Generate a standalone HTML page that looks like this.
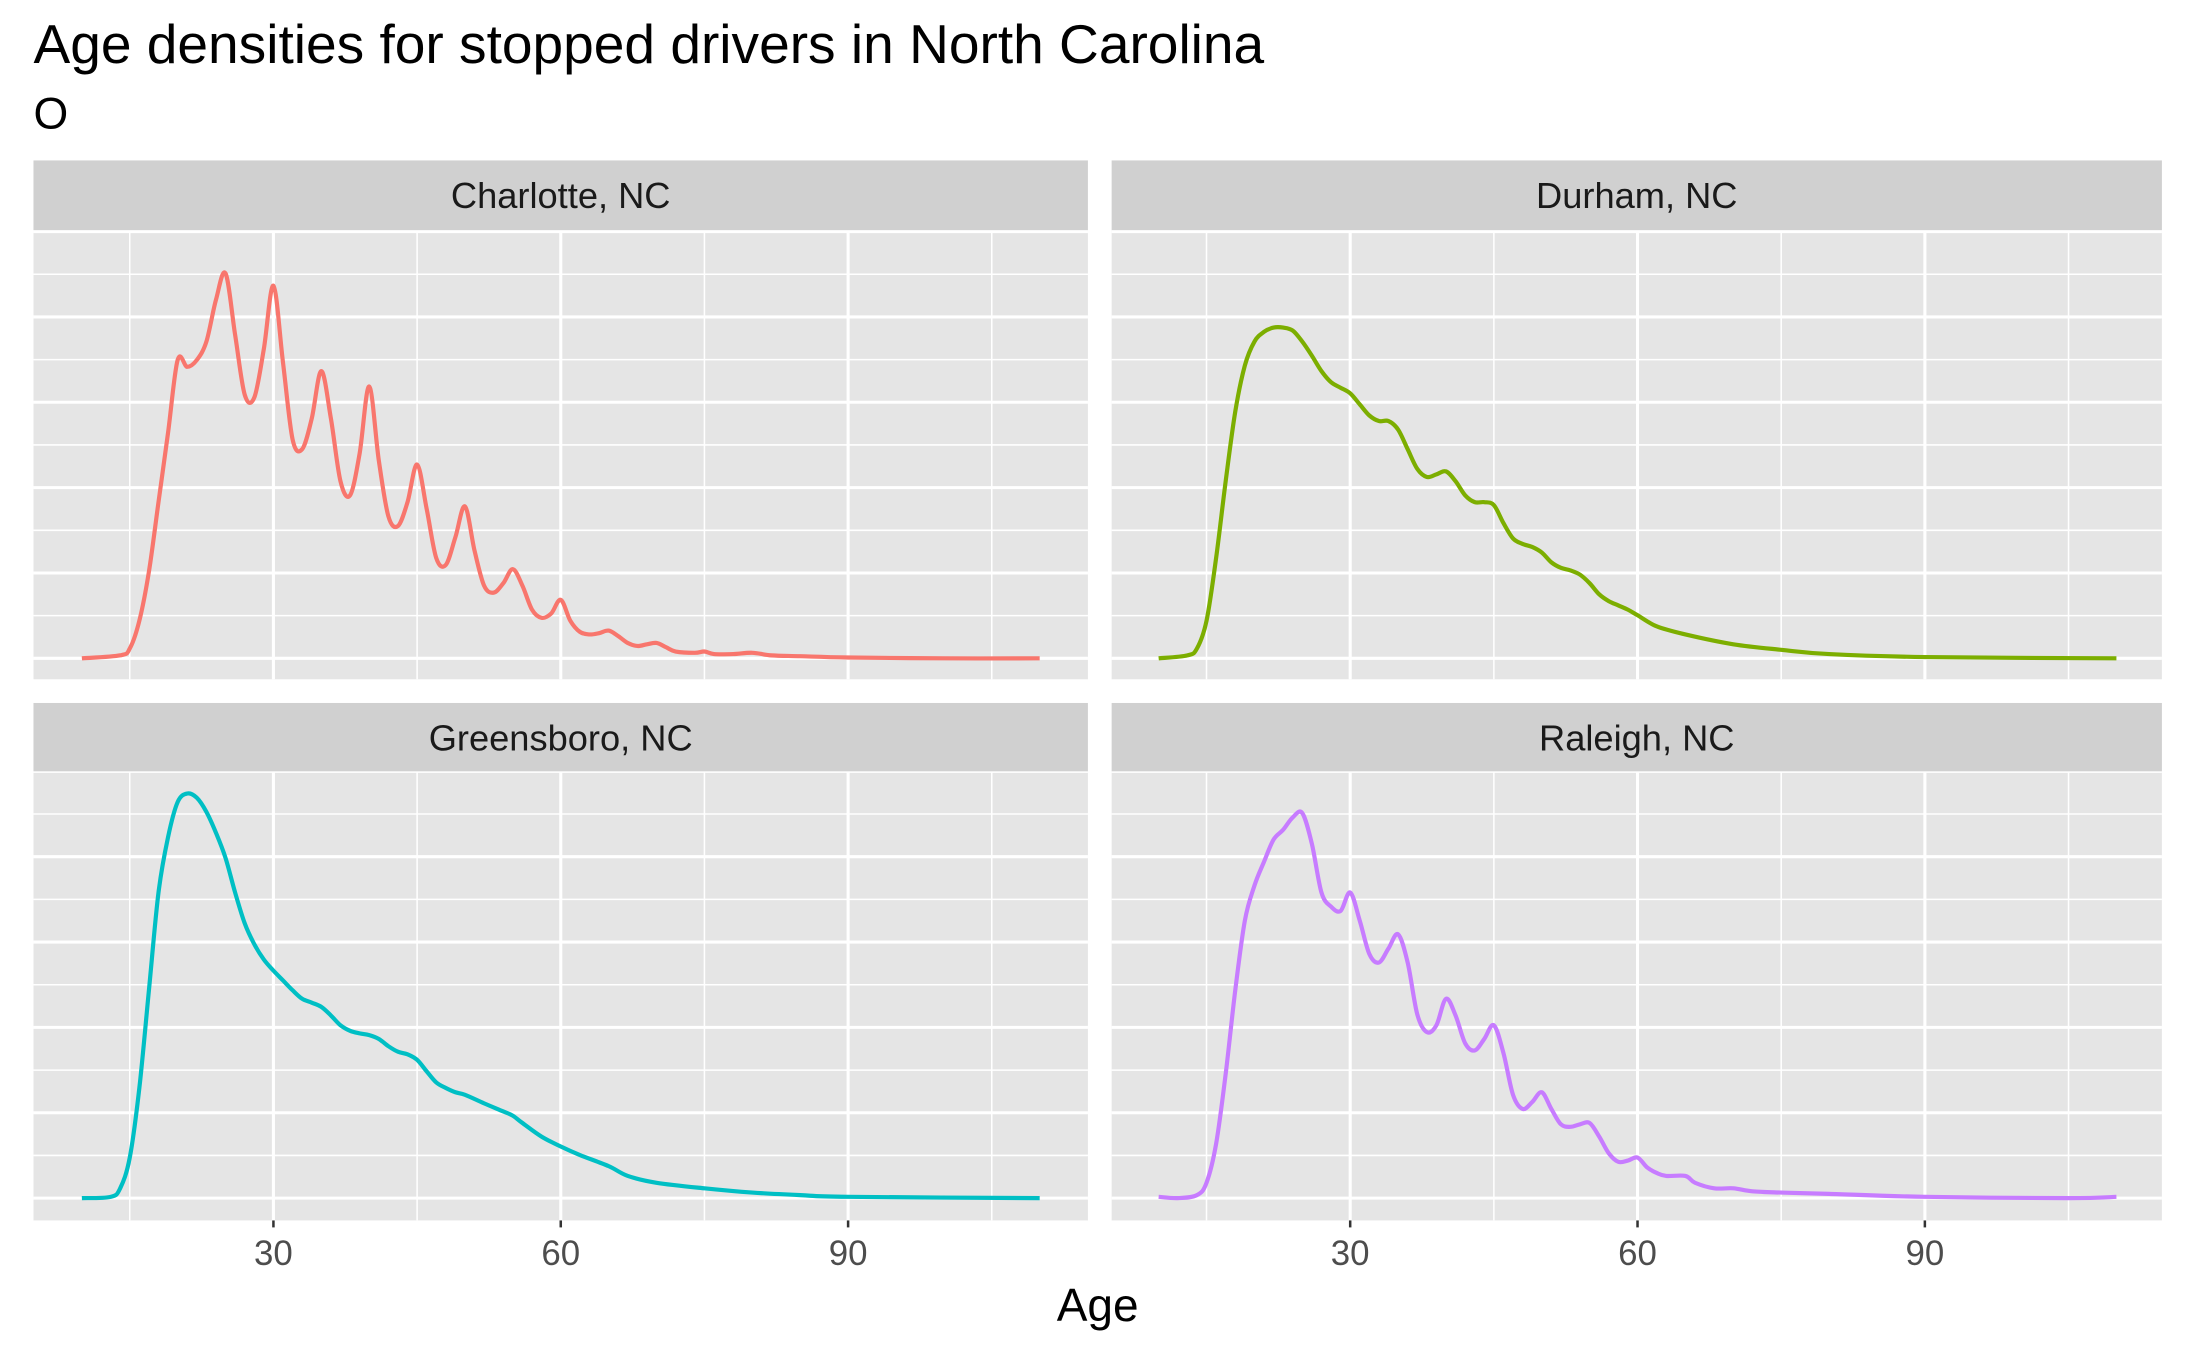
<!DOCTYPE html>
<html><head><meta charset="utf-8"><style>html,body{margin:0;padding:0;background:#fff}svg{display:block}</style></head>
<body>
<svg id="chart" width="2187" height="1351" viewBox="0 0 1568 968.6" xmlns="http://www.w3.org/2000/svg" font-family="Liberation Sans, sans-serif">
<text x="24" y="45" font-size="39.5" fill="#000">Age densities for stopped drivers in North Carolina</text>
<text x="24" y="92" font-size="32" fill="#000">O</text>
<text x="787" y="947" font-size="33" text-anchor="middle" fill="#000">Age</text>
<g id="panels"></g>
</svg>
<script>
const cities = ["Charlotte, NC","Durham, NC","Greensboro, NC","Raleigh, NC"];
const colors = ["#F8766D","#7CAE00","#00BFC4","#C77CFF"];
const xTicks = [30,60,90];
const charlotteAges = [10,14,15,16,17,18,19,20,21,22,23,24,25,26,27,28,29,30,31,32,33,34,35,36,37,38,39,40,41,42,43,44,45,46,47,48,49,50,51,52,53,54,55,56,57,58,59,60,61,62,63,64,65,66,67,68,69,70,71,72,74,75,76,78,80,82,85,90,100,110];
const charlotteVals = [0,0.07,0.23,0.88,2.03,3.66,5.29,6.99,6.83,6.99,7.42,8.4,9.02,7.58,6.18,6.11,7.25,8.73,6.93,5.13,4.9,5.62,6.73,5.62,4.15,3.82,4.8,6.37,4.64,3.33,3.1,3.66,4.54,3.5,2.35,2.19,2.84,3.56,2.52,1.7,1.54,1.76,2.09,1.7,1.14,0.95,1.05,1.37,0.88,0.62,0.56,0.59,0.65,0.52,0.36,0.29,0.33,0.36,0.26,0.16,0.13,0.16,0.1,0.1,0.13,0.07,0.05,0.02,0,0];
const durhamAges = [10,13,14,15,16,17,18,19,20,21,22,23,24,25,26,27,28,29,30,31,32,33,34,35,36,37,38,39,40,41,42,43,44,45,46,47,48,49,50,51,52,53,54,55,56,57,58,59,60,62,65,70,75,80,90,110];
const durhamVals = [0,0.07,0.23,0.88,2.35,4.15,5.78,6.86,7.42,7.65,7.75,7.75,7.68,7.42,7.09,6.73,6.47,6.34,6.21,5.95,5.69,5.56,5.56,5.36,4.9,4.44,4.25,4.31,4.38,4.15,3.82,3.66,3.66,3.59,3.17,2.81,2.68,2.61,2.48,2.25,2.12,2.06,1.96,1.76,1.5,1.34,1.24,1.14,1.01,0.75,0.56,0.33,0.2,0.1,0.03,0];
const greensboroAges = [10,13,14,15,16,17,18,19,20,21,22,23,24,25,26,27,28,29,30,31,32,33,34,35,36,37,38,39,40,41,42,43,44,45,46,47,48,49,50,52,54,55,56,58,60,62,65,67,70,75,80,85,90,110];
const greensboroVals = [0,0.03,0.23,0.95,2.58,4.87,7.16,8.46,9.28,9.48,9.38,9.05,8.56,7.97,7.16,6.44,5.95,5.59,5.33,5.1,4.87,4.67,4.58,4.48,4.28,4.05,3.92,3.86,3.82,3.73,3.56,3.43,3.37,3.24,2.97,2.71,2.58,2.48,2.42,2.22,2.03,1.93,1.76,1.44,1.21,1.01,0.75,0.52,0.36,0.23,0.13,0.07,0.03,0];
const raleighAges = [10,12,14,15,16,17,18,19,20,21,22,23,24,25,26,27,28,29,30,31,32,33,34,35,36,37,38,39,40,41,42,43,44,45,46,47,48,49,50,51,52,53,54,55,56,57,58,59,60,61,62,63,65,66,68,70,72,75,80,90,105,110];
const raleighVals = [0.03,0,0.07,0.36,1.27,2.91,4.87,6.5,7.32,7.88,8.4,8.63,8.92,9.02,8.3,7.16,6.83,6.73,7.16,6.5,5.72,5.52,5.85,6.18,5.52,4.31,3.89,4.05,4.67,4.28,3.63,3.46,3.73,4.05,3.4,2.42,2.09,2.25,2.48,2.09,1.73,1.67,1.73,1.76,1.44,1.05,0.85,0.88,0.95,0.72,0.59,0.52,0.52,0.36,0.23,0.23,0.16,0.13,0.1,0.03,0,0.03];

const series = [[charlotteAges,charlotteVals],[durhamAges,durhamVals],[greensboroAges,greensboroVals],[raleighAges,raleighVals]];
const NS="http://www.w3.org/2000/svg";
const g=document.getElementById('panels');
function mk(t,a,p){const e=document.createElementNS(NS,t);for(const k in a)e.setAttribute(k,a[k]);(p||g).appendChild(e);return e;}
const panelX=[24,797], panelW=[756,753];
const stripTop=[115,504], plotTop=[165,553], plotBot=[487,875], base=[472,859];
const step=30.6;
cities.forEach((c,i)=>{
  const col=i%2,row=Math.floor(i/2);
  const x0=panelX[col], w=panelW[col];
  const off=col===0?0:772;
  const xs=v=>58.7+(v-10)*6.867+off;
  const ys=v=>base[row]-v*step;
  const pg=mk('g',{});
  
  
  const bg=mk('rect',{x:x0,y:plotTop[row],width:w,height:plotBot[row]-plotTop[row],fill:'#E5E5E5'},pg);
  
  
  for(let k=0;k<=10;k++){
    const y=ys(k);
    if(y<plotTop[row])break;
    const l=mk('line',{x1:x0,x2:x0+w,y1:y,y2:y,stroke:'#fff','stroke-width':k%2===0?2.2:1.1},pg);
    
    
  }
  [15,45,75,105].forEach(v=>{
    const l=mk('line',{x1:xs(v),x2:xs(v),y1:plotTop[row],y2:plotBot[row],stroke:'#fff','stroke-width':1.1},pg);
    
    
  });
  xTicks.forEach(v=>{
    const l=mk('line',{x1:xs(v),x2:xs(v),y1:plotTop[row],y2:plotBot[row],stroke:'#fff','stroke-width':2.2},pg);
    
    
  });
  const st=mk('rect',{x:x0,y:stripTop[row],width:w,height:plotTop[row]-stripTop[row],fill:'#D0D0D0'},pg);
  
  
  const stt=mk('text',{x:x0+w/2,y:stripTop[row]+34,'font-size':26,'text-anchor':'middle',fill:'#1a1a1a'},pg);
  stt.textContent=c;
  
  
  const [A,V]=series[i];
  const P=A.map((a,j)=>[xs(a),ys(V[j])]);
  let d='M'+P[0][0]+','+P[0][1];
  for(let j=0;j<P.length-1;j++){
    const p0=P[Math.max(0,j-1)],p1=P[j],p2=P[j+1],p3=P[Math.min(P.length-1,j+2)];
    const c1=[p1[0]+(p2[0]-p0[0])/6,p1[1]+(p2[1]-p0[1])/6];
    const c2=[p2[0]-(p3[0]-p1[0])/6,p2[1]-(p3[1]-p1[1])/6];
    d+=` C${c1[0]},${c1[1]} ${c2[0]},${c2[1]} ${p2[0]},${p2[1]}`;
  }
  const path=mk('path',{d:d,fill:'none',stroke:colors[i],'stroke-width':3,'stroke-linejoin':'round'},pg);
  
  
  if(row===1){
    xTicks.forEach(v=>{
      const t=mk('line',{x1:xs(v),x2:xs(v),y1:plotBot[row],y2:plotBot[row]+5,stroke:'#333','stroke-width':1.8},pg);
      
      
      const tl=mk('text',{x:xs(v),y:plotBot[row]+32,'font-size':25,'text-anchor':'middle',fill:'#4d4d4d'},pg);
      tl.textContent=v;
      
      
    });
  }
});
</script>
</body></html>
